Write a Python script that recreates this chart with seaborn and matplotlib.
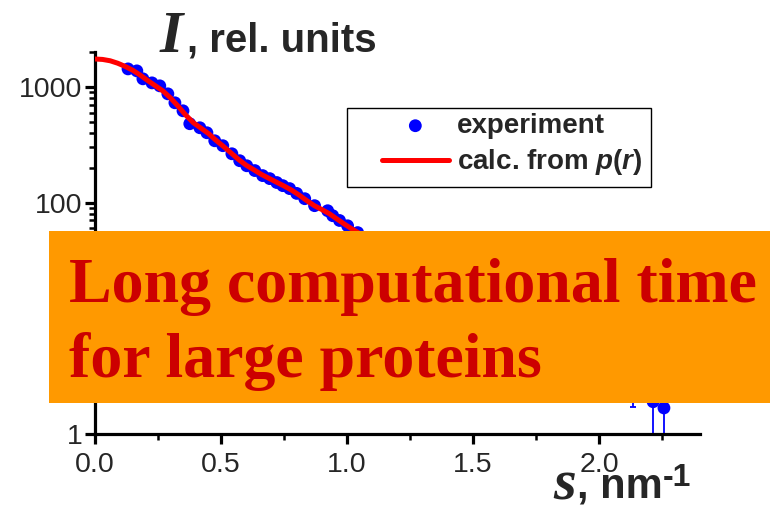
import numpy as np
import pandas as pd
import matplotlib
matplotlib.use("Agg")
import matplotlib.pyplot as plt
import seaborn as sns
from matplotlib.patches import Rectangle
from matplotlib.ticker import MultipleLocator, LogLocator, FixedLocator, FuncFormatter, NullFormatter

# ---------------- data ----------------
s_exp = [0.131, 0.166, 0.190, 0.226, 0.257, 0.289, 0.317, 0.349, 0.376, 0.416,
         0.444, 0.475, 0.507, 0.543, 0.574, 0.602, 0.634, 0.665, 0.693, 0.721,
         0.745, 0.772, 0.800, 0.832, 0.871, 0.923, 0.943, 0.970, 1.002, 1.042,
         1.08, 1.12, 1.17, 1.22, 1.28, 1.34, 1.40, 1.47, 1.54, 1.61,
         1.68, 1.75, 1.82, 1.89, 1.96, 2.03, 2.09, 2.135, 2.214, 2.257]
i_exp = [1429, 1374, 1173, 1082, 1020, 870, 728, 621, 480, 443,
         401, 342, 310, 264, 230, 208, 189, 171, 161, 149,
         140, 132, 120, 108, 94, 85, 77, 70, 63, 55,
         50, 45, 39, 34, 29, 25, 21, 17.5, 14, 11,
         8.8, 7.0, 5.6, 4.5, 3.6, 2.9, 2.5, 2.1, 1.9, 1.68]
err_lo = [60, 50, 40, 35, 30, 25, 20, 18, 14, 12,
          11, 9, 8, 7, 6, 6, 5, 5, 5, 4,
          4, 4, 4, 3, 3, 3, 3, 3, 3, 2.5,
          2.5, 2.5, 2.5, 2.5, 2.5, 2.5, 2.5, 2.5, 2.5, 2.5,
          2.0, 2.0, 1.5, 1.2, 1.0, 0.6, 0.4, 0.39, 1.6, 1.4]
err_hi = [60, 50, 40, 35, 30, 25, 20, 18, 14, 12,
          11, 9, 8, 7, 6, 6, 5, 5, 5, 4,
          4, 4, 4, 3, 3, 3, 3, 3, 3, 2.5,
          2.5, 2.5, 2.5, 2.5, 2.5, 2.5, 2.5, 2.5, 2.5, 2.5,
          2.0, 2.0, 1.5, 1.2, 1.0, 0.6, 0.4, 0.39, 0.3, 0.3]

s_calc = [0.0, 0.03, 0.06, 0.09, 0.12, 0.15, 0.18, 0.21, 0.24, 0.27,
          0.30, 0.33, 0.36, 0.39, 0.42, 0.45, 0.48, 0.51, 0.54, 0.57,
          0.60, 0.63, 0.66, 0.69, 0.72, 0.75, 0.78, 0.81, 0.84, 0.87,
          0.90, 0.93, 0.96, 0.99, 1.02, 1.05, 1.08, 1.2, 1.4, 1.6,
          1.8, 2.0, 2.1]
i_calc = [1740, 1725, 1680, 1600, 1500, 1390, 1260, 1130, 1020, 920,
          800, 680, 570, 490, 440, 395, 345, 305, 268, 235,
          210, 192, 175, 162, 150, 139, 128, 116, 104, 94,
          87, 80, 72, 65, 59, 54, 49, 36, 21, 11,
          5.2, 2.9, 2.3]

x_ticks = [0.0, 0.5, 1.0, 1.5, 2.0]
y_ticks = [1, 10, 100, 1000]
y_tick_labels = ["1", "", "100", "1000"]   # "10" lies hidden under the banner

title_main = "I"
title_rest = ", rel. units"
xlab_main = "s"
xlab_rest = ", nm"
xlab_sup = "-1"
legend_exp = "experiment"
legend_calc = "calc. from $p$($r$)"
banner_lines = ["Long computational time", "for large proteins"]

# ---------------- style ----------------
sns.set_style("ticks")
plt.rcParams["font.family"] = ["Liberation Sans", "DejaVu Sans"]
plt.rcParams["mathtext.fontset"] = "custom"
plt.rcParams["mathtext.it"] = "Liberation Sans:italic:bold"
plt.rcParams["mathtext.rm"] = "Liberation Sans:bold"
plt.rcParams["mathtext.bf"] = "Liberation Sans:bold"

W, H = 770, 512
fig = plt.figure(figsize=(W / 100, H / 100), dpi=100)
ax = fig.add_axes([95 / W, 1 - 434 / H, 605 / W, 382 / H])

df_exp = pd.DataFrame({"s": s_exp, "I": i_exp})
df_calc = pd.DataFrame({"s": s_calc, "I": i_calc})

ax.errorbar(s_exp, i_exp, yerr=[err_lo, err_hi], fmt="none", ecolor="blue",
            elinewidth=1.3, capsize=2, capthick=1.3, zorder=2)
sns.scatterplot(data=df_exp, x="s", y="I", ax=ax, color="blue", s=85,
                edgecolor="none", linewidth=0, zorder=3, label=legend_exp)
sns.lineplot(data=df_calc, x="s", y="I", ax=ax, color="red", linewidth=3.6,
             zorder=4, label=legend_calc, solid_capstyle="round")

ax.set_yscale("log")
ax.set_xlim(0, 2.4)
ax.set_ylim(1, 2000)
ax.set_xlabel("")
ax.set_ylabel("")

for side in ["top", "right"]:
    ax.spines[side].set_visible(False)
for side in ["left", "bottom"]:
    ax.spines[side].set_linewidth(2.3)
    ax.spines[side].set_color("black")

ax.xaxis.set_major_locator(FixedLocator(x_ticks))
ax.xaxis.set_minor_locator(MultipleLocator(0.25))
ax.xaxis.set_major_formatter(FuncFormatter(lambda v, p: f"{v:.1f}"))
ax.yaxis.set_major_locator(FixedLocator(y_ticks))
ax.yaxis.set_major_formatter(FuncFormatter(
    lambda v, p: y_tick_labels[y_ticks.index(int(round(v)))] if int(round(v)) in y_ticks else ""))
ax.yaxis.set_minor_locator(LogLocator(base=10, subs=np.arange(2, 10)))
ax.yaxis.set_minor_formatter(NullFormatter())

ax.tick_params(axis="both", which="major", length=7, width=2.3, color="black",
               labelsize=20.5, direction="out")
ax.tick_params(axis="both", which="minor", length=4.5, width=1.8, color="black",
               direction="out")
ax.tick_params(axis="x", which="major", pad=6)
ax.tick_params(axis="y", which="major", pad=2)

# legend (frameless) + exact frame
leg = ax.legend(loc="upper left", bbox_to_anchor=((382 - 95) / 605, (434 - 113) / 382),
                frameon=False, prop={"weight": "bold", "size": 20},
                handlelength=2.4, handletextpad=0.3, borderpad=0, borderaxespad=0,
                labelspacing=0.3, markerscale=1.0)
for t in leg.get_texts():
    t.set_fontweight("bold")
ax.add_patch(Rectangle(((347 - 95) / 605, (434 - 187) / 382), (651 - 347) / 605, 79 / 382,
                       transform=ax.transAxes, fill=False, edgecolor="black",
                       linewidth=1.0, zorder=5, clip_on=False))

# title & x label pieces
fig.canvas.draw()
r = fig.canvas.get_renderer()

def place_seq(pieces, x0, baselines, gaps):
    x = x0
    for (txt, kw), yb, g in zip(pieces, baselines, gaps):
        t = fig.text((x + g) / W, 1 - yb / H, txt, va="baseline", ha="left", **kw)
        bb = t.get_window_extent(renderer=r)
        x = bb.x1
    return x

serif_bi = dict(family=["Liberation Serif", "DejaVu Serif"], style="italic", weight="bold")
sans_b = dict(family=["Liberation Sans", "DejaVu Sans"], weight="bold")

place_seq([(title_main, dict(fontsize=43, **serif_bi)),
           (title_rest, dict(fontsize=29, **sans_b))], 160, [52, 52], [0, 4])
place_seq([(xlab_main, dict(fontsize=42, **serif_bi)),
           (xlab_rest, dict(fontsize=30, **sans_b)),
           (xlab_sup, dict(fontsize=23, **sans_b))], 553, [500, 497, 486], [0, 1, 0])

# orange banner on top of everything
fig.patches.append(Rectangle((49 / W, 1 - 403 / H), (W - 49) / W, 172 / H,
                             transform=fig.transFigure, facecolor="#FF9900",
                             edgecolor="none", zorder=20))
for line, yb in zip(banner_lines, [302, 377]):
    fig.text(69 / W, 1 - yb / H, line, va="baseline", ha="left", fontsize=46,
             family=["Liberation Serif", "DejaVu Serif"], weight="bold",
             color="#CC0000", zorder=21)

fig.savefig("out.png", dpi=100)
